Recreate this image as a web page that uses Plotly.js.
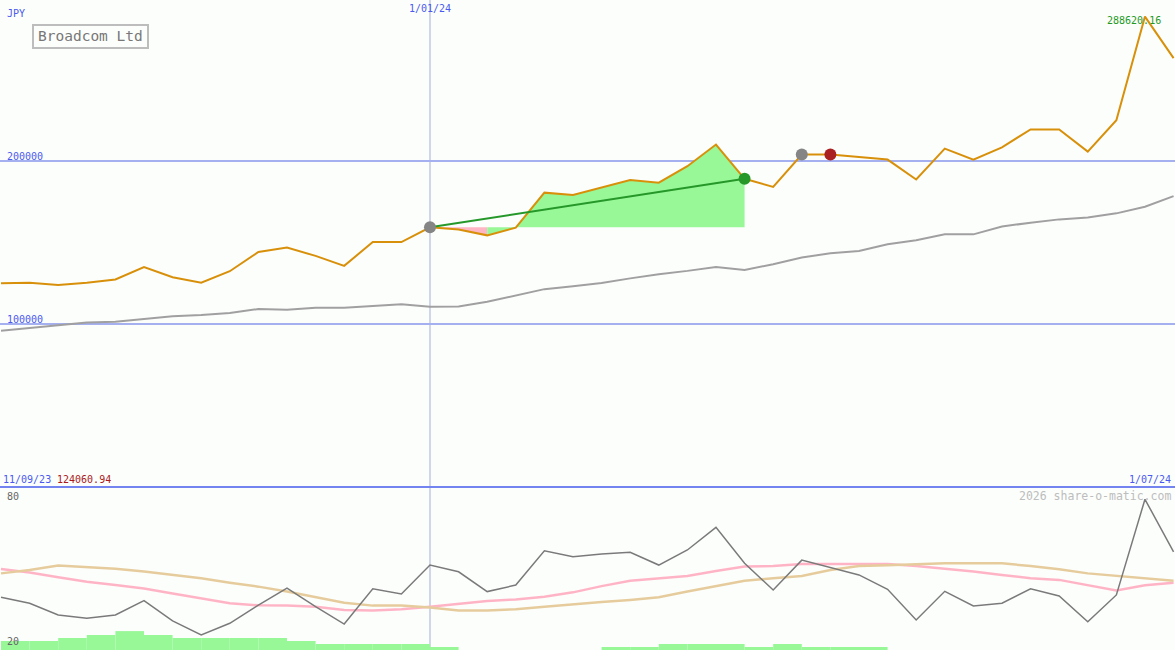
<!DOCTYPE html>
<html><head><meta charset="utf-8">
<script src="https://cdn.plot.ly/plotly-3.0.1.min.js"></script>
<style>html,body{margin:0;padding:0;background:#fcfefc;}#chart{width:1175px;height:650px;}</style>
</head><body><div id="chart"></div>
<script>
// ---- data ----
const weekIndex = [0,1,2,3,4,5,6,7,8,9,10,11,12,13,14,15,16,17,18,19,20,21,22,23,24,25,26,27,28,29,30,31,32,33,34,35,36,37,38,39,40,41];
const price = [125000,125300,124000,125300,127300,134900,128700,125300,132400,144200,146900,141800,135700,150300,150300,
  159300,158000,154400,159100,180600,179100,183600,188300,186700,196800,210100,189100,184100,204000,204000,
  202600,200900,188700,207600,200900,208400,219400,219400,205800,225000,288620.16,263100];
const priceMA = [95900,97700,99400,101000,101400,103100,104700,105500,106700,109200,108700,110000,110000,111000,112200,
  110600,110800,113600,117300,121400,123100,125100,128000,130600,132600,135000,133200,136700,140800,143400,
  144800,148900,151400,155000,155000,159800,162200,164200,165300,167900,172000,178500];
const oscillator = [39.5,37.2,32.7,31.4,32.7,38.2,30.4,25.0,29.5,36.5,43.0,35.9,29.2,42.8,40.8,51.9,49.3,41.7,44.2,57.4,
  55.1,56.2,56.8,51.9,57.7,66.4,52.6,42.3,53.8,51.0,48.1,42.6,30.8,41.8,36.2,37.2,42.8,40.0,30.1,40.4,77.2,57.0];
const oscPink = [50.4,49.0,47.2,45.5,44.2,42.9,41.0,39.1,37.2,36.4,36.3,35.9,34.6,34.4,34.9,35.9,36.9,38.1,38.7,39.7,
  41.4,43.8,45.9,46.8,47.7,49.6,51.3,51.5,52.3,52.3,52.3,52.3,51.5,50.5,49.4,48.1,46.8,46.2,44.2,42.1,44.1,45.1];
const oscTan = [48.7,50.0,51.7,51.0,50.5,49.4,48.1,46.8,45.1,43.6,41.7,39.5,37.4,36.3,36.3,35.6,34.4,34.4,34.9,35.9,
  36.9,37.7,38.5,39.5,41.7,43.8,45.9,46.8,47.7,50.0,51.5,51.8,52.3,52.6,52.6,52.6,51.5,50.3,48.7,47.7,46.8,45.9];
const volume = [3,3,4,5,6.3,5,4,4,4,4,3,2,2,2,2,1,0,0,0,0,0,1,1,2,2,2,1,2,1,1,1,0,0,0,0,0,0,0,0,0,0,0];
const priceLevels = [100000, 200000];
const currency = "JPY";
const companyName = "Broadcom Ltd";
const startDateLabel = "11/09/23";
const startPriceLabel = "124060.94";
const markDateLabel = "1/01/24";
const endDateLabel = "1/07/24";
const peakLabel = "288620.16";
const oscTopLabel = "80", oscBottomLabel = "20";
const credit = "2026 share-o-matic.com";
const markIndex = 15;
const trendStart = 15, trendSplit = 17, trendEnd = 26;
const grayDots = [15, 28];
const greenDots = [26];
const redDots = [29];

// ---- drawing ----
const W = 1175, H = 650;
const P = (x, y) => ({x: x / W, y: 1 - y / H});
const FONT = "DejaVu Sans Mono, monospace";
const BLUE = "#4a5af0";

const base = price[trendStart];
const idxRange = (a, b) => weekIndex.slice(a, b + 1);
const constArr = (a, b, v) => idxRange(a, b).map(() => v);

const traces = [
  {x: weekIndex, y: volume, type: 'bar', xaxis: 'x', yaxis: 'y3', offset: 0, width: 1,
   marker: {color: '#98f898', line: {width: 0}}},
  {x: weekIndex, y: oscPink, type: 'scatter', mode: 'lines', xaxis: 'x', yaxis: 'y2', line: {color: '#ffb4c6', width: 2.5}},
  {x: weekIndex, y: oscTan, type: 'scatter', mode: 'lines', xaxis: 'x', yaxis: 'y2', line: {color: '#e6cc9c', width: 2.5}},
  {x: weekIndex, y: oscillator, type: 'scatter', mode: 'lines', xaxis: 'x', yaxis: 'y2', line: {color: '#7a7a7a', width: 1.5}},
  // pink fill
  {x: idxRange(trendStart, trendSplit), y: constArr(trendStart, trendSplit, base), mode: 'lines', line: {width: 0}},
  {x: idxRange(trendStart, trendSplit), y: price.slice(trendStart, trendSplit + 1), mode: 'lines', line: {width: 0},
   fill: 'tonexty', fillcolor: '#ffb6c4'},
  // green fill
  {x: idxRange(trendSplit, trendEnd), y: constArr(trendSplit, trendEnd, base), mode: 'lines', line: {width: 0}},
  {x: idxRange(trendSplit, trendEnd), y: price.slice(trendSplit, trendEnd + 1), mode: 'lines', line: {width: 0},
   fill: 'tonexty', fillcolor: '#98f898'},
  {x: weekIndex, y: priceMA, mode: 'lines', line: {color: '#a0a0a0', width: 2}},
  {x: weekIndex, y: price, mode: 'lines', line: {color: '#d8900a', width: 2}},
  {x: [trendStart, trendEnd], y: [price[trendStart], price[trendEnd]], mode: 'lines', line: {color: '#26982a', width: 2}},
  {x: grayDots, y: grayDots.map(i => price[i]), mode: 'markers', marker: {color: '#858585', size: 12}},
  {x: greenDots, y: greenDots.map(i => price[i]), mode: 'markers', marker: {color: '#26982a', size: 12}},
  {x: redDots, y: redDots.map(i => price[i]), mode: 'markers', marker: {color: '#aa2020', size: 12}}
];

const ann = (text, x, y, xanchor, color, size) => Object.assign({
  text, xref: 'paper', yref: 'paper', xanchor, yanchor: 'middle', showarrow: false,
  font: {family: FONT, size: size || 10, color}}, P(x, y));
const levelAnn = (v) => ({text: String(v), x: 5/W, xref: 'paper', y: v, yref: 'y', xanchor: 'left', yanchor: 'bottom',
   showarrow: false, yshift: -3, font: {family: FONT, size: 10, color: BLUE}});

const annotations = [
  ann(currency, 5, 13, 'left', BLUE),
  ann(companyName, 90.5, 36.5, 'center', '#777777', 14.5),
  ann(markDateLabel, 430, 9, 'center', BLUE),
  ann(peakLabel, 1163, 21, 'right', '#1e9a1e'),
  levelAnn(priceLevels[1]),
  levelAnn(priceLevels[0]),
  ann(startDateLabel, 1, 479, 'left', BLUE),
  ann(startPriceLabel, 55, 479, 'left', '#aa1a1a'),
  ann(endDateLabel, 1173, 479, 'right', BLUE),
  ann(oscTopLabel, 5, 496, 'left', '#666666'),
  ann(oscBottomLabel, 5, 641, 'left', '#666666'),
  ann(credit, 1173, 496, 'right', '#bdbdbd', 11.5)
];

const shapes = [
  {type: 'rect', xref: 'paper', yref: 'paper', x0: 33/W, x1: 148/W, y0: 1 - 25/H, y1: 1 - 48/H,
   line: {color: '#bdbdbd', width: 2}, fillcolor: 'rgba(0,0,0,0)'},
  {type: 'line', xref: 'x', yref: 'paper', x0: markIndex, x1: markIndex, y0: 0, y1: 1,
   line: {color: '#a8aed8', width: 1}, layer: 'below'},
  {type: 'line', xref: 'paper', yref: 'paper', x0: 0, x1: 1, y0: 1 - 487/H, y1: 1 - 487/H,
   line: {color: '#7383ef', width: 2}}
];

const layout = {
  width: W, height: H, margin: {l: 0, r: 0, t: 0, b: 0, pad: 0},
  paper_bgcolor: '#fcfefc', plot_bgcolor: '#fcfefc', showlegend: false, hovermode: false,
  xaxis: {range: [-0.035, 41.05], showticklabels: false, showgrid: false, zeroline: false, showline: false, ticks: ''},
  yaxis: {domain: [1 - 487/H, 1], range: [0, 298800], tickvals: priceLevels, showticklabels: false, ticks: '',
          showgrid: true, gridcolor: '#a4b0f0', gridwidth: 2, zeroline: false, showline: false},
  yaxis2: {domain: [0, 1 - 488/H], range: [19.23, 81.54], showticklabels: false, showgrid: false, zeroline: false, ticks: ''},
  yaxis3: {overlaying: 'y2', range: [0, 54], showticklabels: false, showgrid: false, zeroline: false, ticks: ''},
  annotations, shapes
};

Plotly.newPlot('chart', traces, layout, {staticPlot: true, displayModeBar: false});
</script>
</body></html>
